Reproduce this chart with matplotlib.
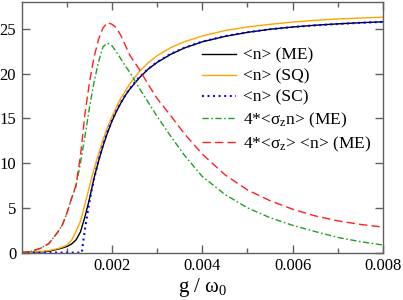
import matplotlib
matplotlib.use("Agg")
import matplotlib.pyplot as plt

plt.rcParams["font.family"] = ["Liberation Serif", "DejaVu Serif"]
plt.rcParams["mathtext.fontset"] = "custom"
plt.rcParams["mathtext.rm"] = "Liberation Serif"
plt.rcParams["mathtext.it"] = "Liberation Serif"
plt.rcParams["lines.scale_dashes"] = False

# coupling grid shared by the master-equation / SQ curves
g = [0, 0.0002, 0.0004, 0.0006, 0.0008, 0.0009, 0.001, 0.0011, 0.0012,
     0.0013, 0.0014, 0.0015, 0.0016, 0.0017, 0.0018, 0.0019, 0.002,
     0.0021, 0.0022, 0.0023, 0.0024, 0.0026, 0.0028, 0.003, 0.0033,
     0.0036, 0.004, 0.0045, 0.005, 0.0055, 0.006, 0.0065, 0.007,
     0.0075, 0.008]

n_me = [0, 0.02, 0.07, 0.15, 0.38, 0.52, 0.68, 0.95, 1.4, 2.3, 4.0, 6.0,
        8.3, 10.2, 11.9, 13.4, 14.7, 15.8, 16.75, 17.6, 18.3, 19.5, 20.5,
        21.25, 22.15, 22.85, 23.55, 24.15, 24.6, 24.95, 25.2, 25.4, 25.55,
        25.68, 25.78]

n_sq = [0, 0.03, 0.1, 0.22, 0.45, 0.62, 0.84, 1.35, 2.35, 3.5, 5.4, 7.4,
        9.3, 11.0, 12.6, 14.0, 15.2, 16.3, 17.3, 18.1, 18.9, 20.2, 21.2,
        22.0, 22.9, 23.55, 24.2, 24.8, 25.2, 25.5, 25.75, 25.95, 26.1,
        26.2, 26.3]

sz_n = [0, 0.12, 0.45, 1.0, 2.3, 3.1, 4.4, 6.0, 7.4, 10.0, 13.0, 16.2,
        19.0, 21.3, 23.0, 23.4, 23.1, 22.4, 21.6, 20.8, 20.1, 18.4, 16.8,
        15.2, 13.0, 10.9, 8.5, 6.5, 5.0, 3.9, 3.05, 2.35, 1.7, 1.22, 0.85]

sz_times_n = [0, 0.12, 0.45, 1.0, 2.3, 3.1, 4.4, 6.0, 7.5, 10.8, 15.5,
              19.0, 21.8, 23.8, 25.1, 25.7, 25.5, 25.1, 24.2, 23.1, 22.0,
              20.5, 18.8, 17.2, 15.3, 13.3, 11.0, 8.7, 7.0, 5.8, 4.85, 4.1,
              3.55, 3.15, 2.85]

# semiclassical result has its own grid (sharp threshold)
g_sc = [0, 0.0013, 0.00133, 0.00135, 0.00137, 0.0014, 0.00145, 0.0015,
        0.00155, 0.0016, 0.00165, 0.0017, 0.00175, 0.0018, 0.0019, 0.002,
        0.0021, 0.0022, 0.0023, 0.0024, 0.0025, 0.0026, 0.0028, 0.003,
        0.0033, 0.0036, 0.004, 0.0045, 0.005, 0.0055, 0.006, 0.0065,
        0.007, 0.0075, 0.008]
n_sc = [0, 0, 0, 0.78, 1.52, 2.58, 4.2, 5.67, 6.99, 8.19, 9.28, 10.28,
        11.19, 12.03, 13.52, 14.78, 15.87, 16.81, 17.64, 18.36, 19.0,
        19.56, 20.52, 21.29, 22.2, 22.88, 23.57, 24.18, 24.62, 24.95, 25.2,
        25.39, 25.54, 25.67, 25.77]

x_ticks = [0.002, 0.004, 0.006, 0.008]
x_tick_labels = ["0.002", "0.004", "0.006", "0.008"]
x_minor = [0.001, 0.003, 0.005, 0.007]
y_ticks = [0, 5, 10, 15, 20, 25]

fig = plt.figure(figsize=(4.03, 3.0), dpi=100)
ax = fig.add_axes([0.054, 0.158, 0.896, 0.8355])

lw = 1.0
ax.plot(g, n_me, color="black", lw=lw, label="<n> (ME)")
ax.plot(g, n_sq, color="#ffa500", lw=lw, label="<n> (SQ)")
ax.plot(g_sc, n_sc, color="#0000ff", lw=1.5, linestyle=(0, (1.4, 2.6)),
        label="<n> (SC)")
ax.plot(g, sz_n, color="#22a022", lw=lw, linestyle=(0, (4.5, 1.8, 1.2, 1.8)),
        label=r"4*<$\mathrm{\sigma_z}$n> (ME)")
ax.plot(g, sz_times_n, color="#ff2020", lw=lw, linestyle=(0, (6, 3)),
        label=r"4*<$\mathrm{\sigma_z}$> <n> (ME)")

ax.set_xlim(0, 0.008)
ax.set_ylim(0, 28)
ax.set_xticks(x_ticks)
ax.set_xticklabels(x_tick_labels)
ax.set_xticks(x_minor, minor=True)
ax.set_yticks(y_ticks)

frame_color = "#606060"
for spine in ax.spines.values():
    spine.set_color(frame_color)
    spine.set_linewidth(1.0)
ax.tick_params(which="both", direction="in", top=True, right=True,
               color=frame_color, labelsize=12, width=1.0)
ax.tick_params(which="major", length=6, pad=4)
ax.tick_params(which="minor", length=3.5)

ax.set_xlabel(r"g / $\mathrm{\omega_0}$", fontsize=15, labelpad=1)

ax.legend(loc="upper left", bbox_to_anchor=(0.498, 0.818), frameon=False,
          fontsize=12.5, handlelength=2.0, handletextpad=0.4,
          labelspacing=0.28, borderpad=0, borderaxespad=0)

plt.savefig("out.png", dpi=100)
